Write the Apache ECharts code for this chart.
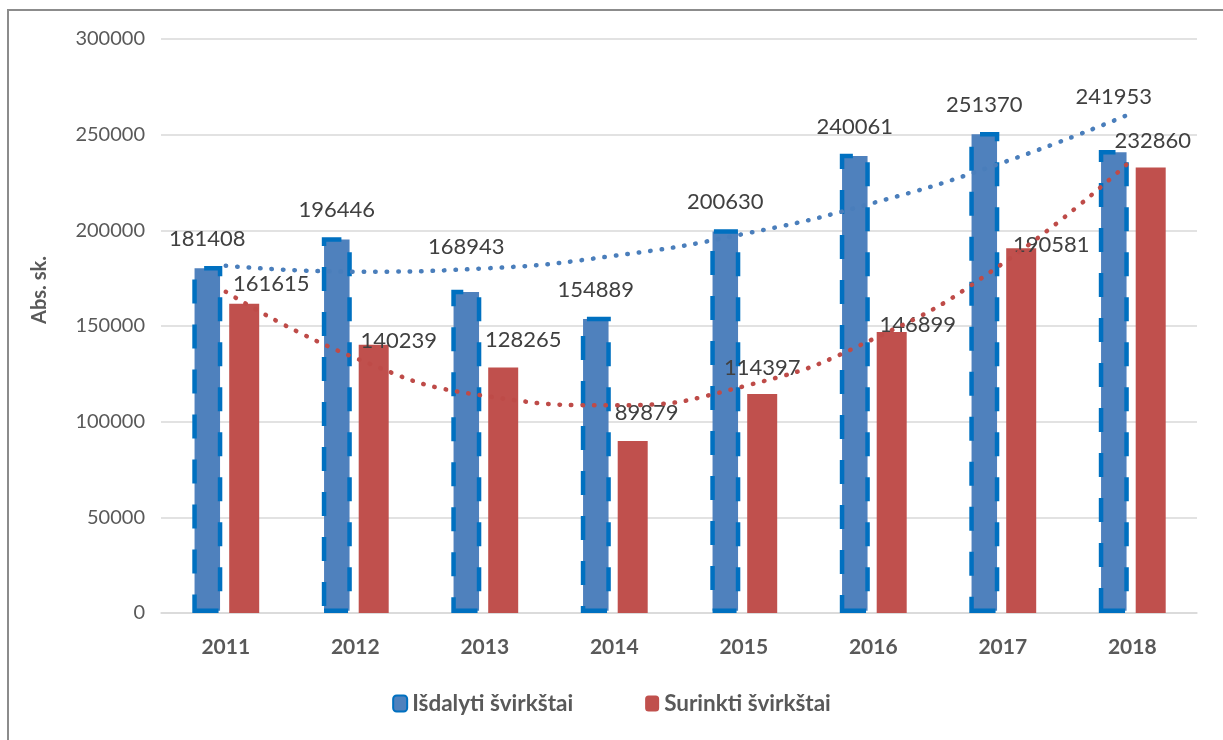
<!DOCTYPE html>
<html>
<head>
<meta charset="utf-8">
<script src="https://cdn.jsdelivr.net/npm/echarts@6/dist/echarts.min.js"></script>
<style>
  html, body { margin: 0; padding: 0; background: #fff; }
  #chart { width: 1223px; height: 740px; }
</style>
</head>
<body>
<div id="chart"></div>
<script>
// data
var years = ['2011', '2012', '2013', '2014', '2015', '2016', '2017', '2018']
var issued = [181408, 196446, 168943, 154889, 200630, 240061, 251370, 241953]
var collected = [161615, 140239, 128265, 89879, 114397, 146899, 190581, 232860]
// dotted trend lines, read at each year
var issuedTrend = [181500, 178400, 180100, 186700, 198100, 214300, 235400, 261300]
var collectedTrend = [167900, 133300, 113500, 108600, 118500, 143200, 182700, 237100]
var yTicks = { min: 0, max: 300000, step: 50000 }

// label nudges (px) where the labels were moved by hand
var issuedLabelShift = [[0, 0], [0, 0], [0, -16], [0, 0], [0, 0], [0, 0], [0, 0], [0, -26]]
var collectedLabelShift = [[27, 7], [25, 23], [20, -1], [14, -1], [0, 1], [26, 20], [30, 24], [2, 0]]

var txt = '#595959'
var font = 'Lato, "Open Sans", sans-serif'

function withShift(values, shifts) {
  return values.map(function (v, i) {
    return { value: v, label: { offset: shifts[i] } }
  })
}

var myChart = echarts.init(document.getElementById('chart'))
myChart.setOption({
  animation: false,
  textStyle: { fontFamily: font },
  grid: { left: 161, right: 26, top: 39, bottom: 127 },
  graphic: [
    {
      type: 'rect',
      shape: { x: 8, y: 10, width: 1400, height: 900 },
      style: { fill: null, stroke: '#8c8c8c', lineWidth: 2 },
      silent: true
    },
    {
      type: 'text',
      x: 40,
      y: 290,
      rotation: Math.PI / 2,
      style: {
        text: 'Abs. sk.',
        font: 'bold 20px ' + font,
        fill: txt,
        textAlign: 'center',
        textVerticalAlign: 'middle'
      }
    }
  ],
  legend: {
    bottom: 20,
    left: 'center',
    itemGap: 72,
    itemWidth: 14,
    itemHeight: 16,
    data: ['Išdalyti švirkštai', 'Surinkti švirkštai'],
    textStyle: { color: txt, fontSize: 22.5, fontWeight: 'bold', fontFamily: font }
  },
  xAxis: {
    type: 'category',
    data: years,
    axisLine: { lineStyle: { color: '#D9D9D9', width: 1.5 } },
    axisTick: { show: false },
    axisLabel: { color: txt, fontSize: 21, fontWeight: 'bold', margin: 24 }
  },
  yAxis: {
    type: 'value',
    min: yTicks.min,
    max: yTicks.max,
    interval: yTicks.step,
    axisLine: { show: false },
    axisTick: { show: false },
    axisLabel: {
      color: txt,
      fontSize: 20,
      margin: 16,
      formatter: function (v) { return String(v) }
    },
    splitLine: { lineStyle: { color: '#D9D9D9', width: 1.5 } }
  },
  series: [
    {
      name: 'Išdalyti švirkštai',
      type: 'bar',
      barWidth: 30,
      barGap: '23%',
      data: withShift(issued, issuedLabelShift),
      itemStyle: {
        color: '#4F81BD',
        borderColor: '#0070C0',
        borderWidth: 4.5,
        borderType: [24, 21]
      },
      label: {
        show: true,
        position: 'top',
        distance: 16,
        color: '#404040',
        fontSize: 22
      },
      z: 2
    },
    {
      name: 'Surinkti švirkštai',
      type: 'bar',
      barWidth: 30,
      data: withShift(collected, collectedLabelShift),
      itemStyle: { color: '#C0504D' },
      label: {
        show: true,
        position: 'top',
        distance: 16,
        color: '#404040',
        fontSize: 22
      },
      z: 2
    },
    {
      name: 'issued trend',
      type: 'line',
      data: issuedTrend,
      smooth: true,
      symbol: 'none',
      lineStyle: { color: '#4A7EBB', width: 4.5, type: [0.5, 11], cap: 'round' },
      z: 3
    },
    {
      name: 'collected trend',
      type: 'line',
      data: collectedTrend,
      smooth: true,
      symbol: 'none',
      lineStyle: { color: '#BE4B48', width: 4.5, type: [0.5, 11], cap: 'round' },
      z: 3
    }
  ]
})
window.addEventListener('resize', function () {
  myChart.resize()
})
</script>
</body>
</html>
